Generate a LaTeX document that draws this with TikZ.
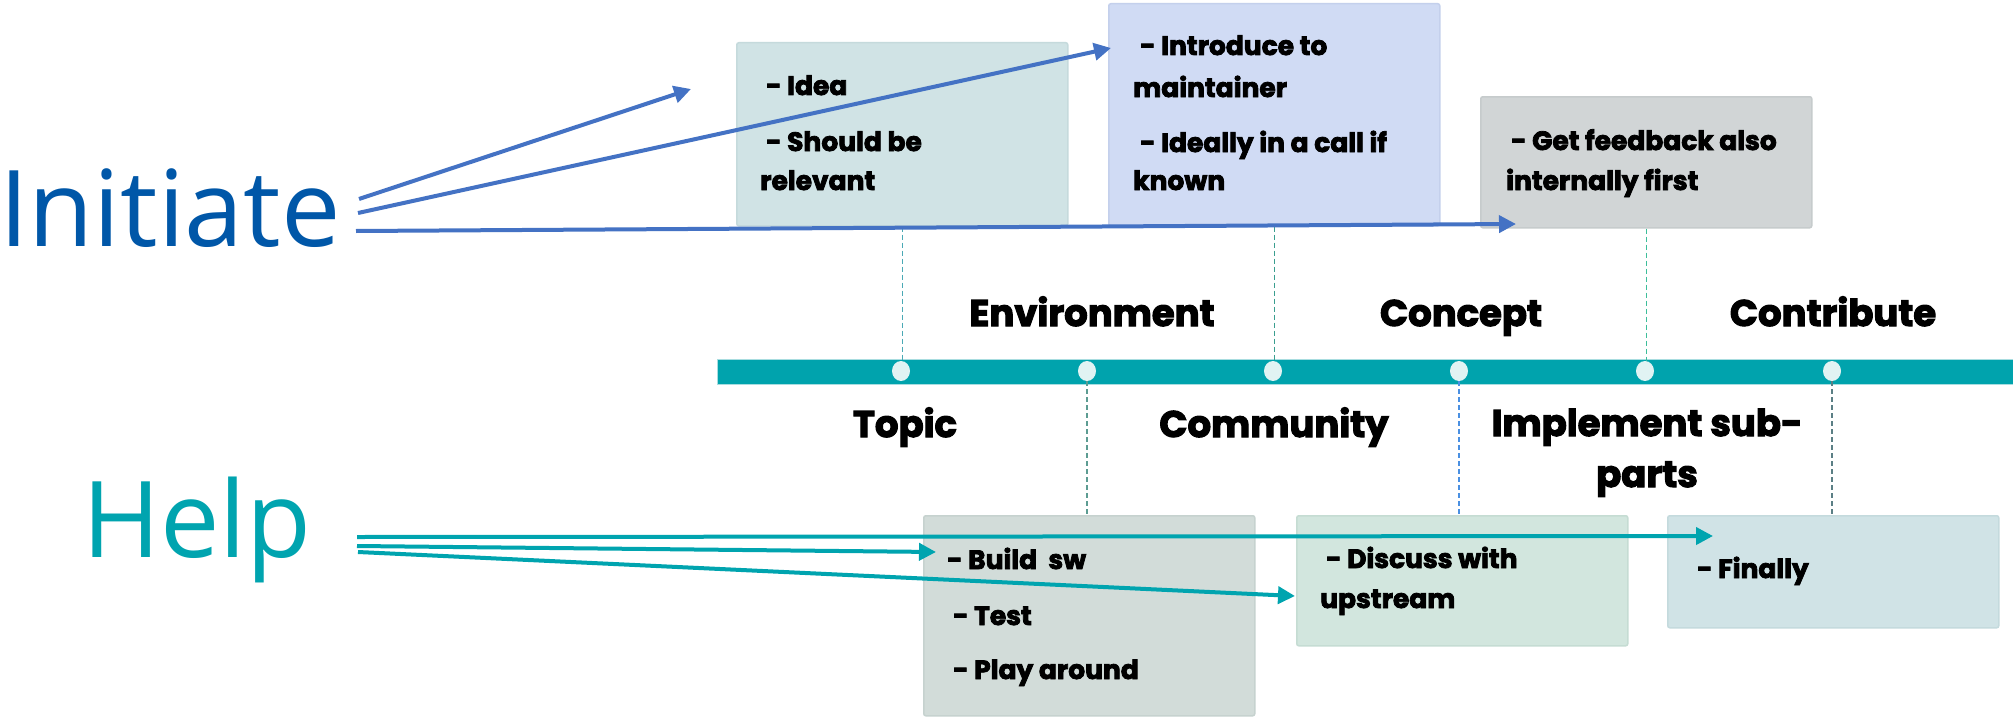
\documentclass[tikz,border=0pt]{standalone}
\usepackage{fontspec}
\setmainfont{Poppins}[BoldFeatures={FakeBold=3}]
\newfontfamily\osans{Open Sans}
\usetikzlibrary{arrows.meta,shapes.geometric}
\definecolor{iniC}{HTML}{0057A8}
\definecolor{iniA}{HTML}{4472C4}
\definecolor{helpC}{HTML}{00A4AF}
\definecolor{barC}{HTML}{00A3AD}
\definecolor{barE}{HTML}{A8DDE0}
\definecolor{dotF}{HTML}{E1F3F3}
\definecolor{ideaF}{HTML}{D0E3E5}\definecolor{ideaD}{HTML}{C5DADC}
\definecolor{introF}{HTML}{D0DBF4}\definecolor{introD}{HTML}{C4D0EC}
\definecolor{fbF}{HTML}{D1D5D6}\definecolor{fbD}{HTML}{C6CBCC}
\definecolor{buildF}{HTML}{D2DCD9}\definecolor{buildD}{HTML}{C6D2CF}
\definecolor{discF}{HTML}{D2E6DE}\definecolor{discD}{HTML}{C5DCD3}
\definecolor{finF}{HTML}{D0E3E6}\definecolor{finD}{HTML}{C4DADD}
\definecolor{dA}{HTML}{4AA9B5}
\definecolor{dB}{HTML}{3A9E8F}
\definecolor{dC}{HTML}{3DBE9A}
\definecolor{dD}{HTML}{5C9C92}
\definecolor{dE}{HTML}{4A90E2}
\definecolor{dF}{HTML}{5B7F85}
\begin{document}
\begin{tikzpicture}[x=1pt,y=-1pt,
  box/.style={rectangle, rounded corners=2pt, line width=1.5pt, minimum width=331pt, inner sep=0pt, anchor=north west},
  txt/.style={anchor=base west, inner sep=0pt, font=\fontsize{26.5}{30}\selectfont\bfseries},
  lbl/.style={anchor=base, inner sep=0pt, font=\fontsize{37}{44}\selectfont\bfseries},
  dotn/.style={ellipse, fill=dotF, minimum width=18pt, minimum height=20pt, inner sep=0pt},
  dline/.style={dashed, dash pattern=on 5pt off 3pt, line width=1.5pt},
  iarrow/.style={draw=iniA, line width=4pt, -{Triangle[length=17pt,width=17pt]}},
  harrow/.style={draw=helpC, line width=4pt, -{Triangle[length=17pt,width=17pt]}}]
\useasboundingbox (0,0) rectangle (2013,717);
\fill[white] (0,0) rectangle (2013,717);

% big labels
\node[anchor=base west, inner sep=0pt, text=iniC, font=\osans\fontsize{106}{120}\selectfont] (ini) at (-1,246) {Initiate};
\node[anchor=base west, inner sep=0pt, text=helpC, font=\osans\fontsize{106}{120}\selectfont] (help) at (82,557) {Help};

% boxes
\node[box, fill=ideaF, draw=ideaD, minimum height=183pt] (idea) at (736,42) {};
\node[box, fill=introF, draw=introD, minimum height=222pt] (intro) at (1108,3) {};
\node[box, fill=fbF, draw=fbD, minimum height=131pt] (fb) at (1480,96) {};
\node[box, fill=buildF, draw=buildD, minimum height=200pt] (build) at (923,515) {};
\node[box, fill=discF, draw=discD, minimum height=130pt] (disc) at (1296,515) {};
\node[box, fill=finF, draw=finD, minimum height=112pt] (fin) at (1667,515) {};

% box texts
\node[txt] (t1) at (766,95) {- Idea};
\node[txt] (t2) at (766,151) {- Should be};
\node[txt] (t3) at (760,190) {relevant};
\node[txt] (t4) at (1140,55) {- Introduce to};
\node[txt] (t5) at (1133,97) {maintainer};
\node[txt] (t6) at (1140,152) {- Ideally in a call if};
\node[txt] (t7) at (1133,190) {known};
\node[txt] (t8) at (1511,150) {- Get feedback also};
\node[txt] (t9) at (1506,190) {internally first};
\node[txt] (t10) at (947,569) {- Build\ \ sw};
\node[txt] (t11) at (953,625) {- Test};
\node[txt] (t12) at (953,679) {- Play around};
\node[txt] (t13) at (1326,568) {- Discuss with};
\node[txt] (t14) at (1320,608) {upstream};
\node[txt] (t15) at (1697,578) {- Finally};

% timeline bar
\node[fill=barC, draw=barE, line width=1pt, minimum width=1296pt, minimum height=25pt, anchor=north west, inner sep=0pt] (bar) at (717,359) {};
\node[dotn] (d1) at (901,371) {};
\node[dotn] (d2) at (1087,371) {};
\node[dotn] (d3) at (1273,371) {};
\node[dotn] (d4) at (1459,371) {};
\node[dotn] (d5) at (1645,371) {};
\node[dotn] (d6) at (1832,371) {};

% dashed connectors
\draw[dline, draw=dA] (idea.south) -- (idea.south |- d1.north);
\draw[dline, draw=dB] (intro.south) -- (intro.south |- d3.north);
\draw[dline, draw=dC] (fb.south) -- (fb.south |- d5.north);
\draw[dline, draw=dD] (d2.south) -- (d2.south |- build.north);
\draw[dline, draw=dE] (d4.south) -- (d4.south |- disc.north);
\draw[dline, draw=dF] (d6.south) -- (d6.south |- fin.north);

% timeline labels
\node[lbl] (l1) at (1092,326) {Environment};
\node[lbl] (l2) at (1461,326) {Concept};
\node[lbl] (l3) at (1833,326) {Contribute};
\node[lbl] (l4) at (905,437) {Topic};
\node[lbl] (l5) at (1274,437) {Community};
\node[lbl] (l6) at (1647,436) {Implement sub-};
\node[lbl] (l7) at (1647,487) {parts};

% arrows from Initiate
\coordinate (i1) at (359,199);
\coordinate (i2) at (358,213);
\coordinate (i3) at (356,231);
\coordinate (e1) at (691,89);
\coordinate (e2) at (1111,48);
\coordinate (e3) at (1516,224);
\draw[iarrow] (i1) -- (e1);
\draw[iarrow] (i2) -- (e2);
\draw[iarrow] (i3) -- (e3);

% arrows from Help
\coordinate (h1) at (357,537);
\coordinate (h2) at (357,546);
\coordinate (h3) at (358,552);
\coordinate (f1) at (1713,536);
\coordinate (f2) at (936,552);
\coordinate (f3) at (1295,596);
\draw[harrow] (h1) -- (f1);
\draw[harrow] (h2) -- (f2);
\draw[harrow] (h3) -- (f3);
\end{tikzpicture}
\end{document}
